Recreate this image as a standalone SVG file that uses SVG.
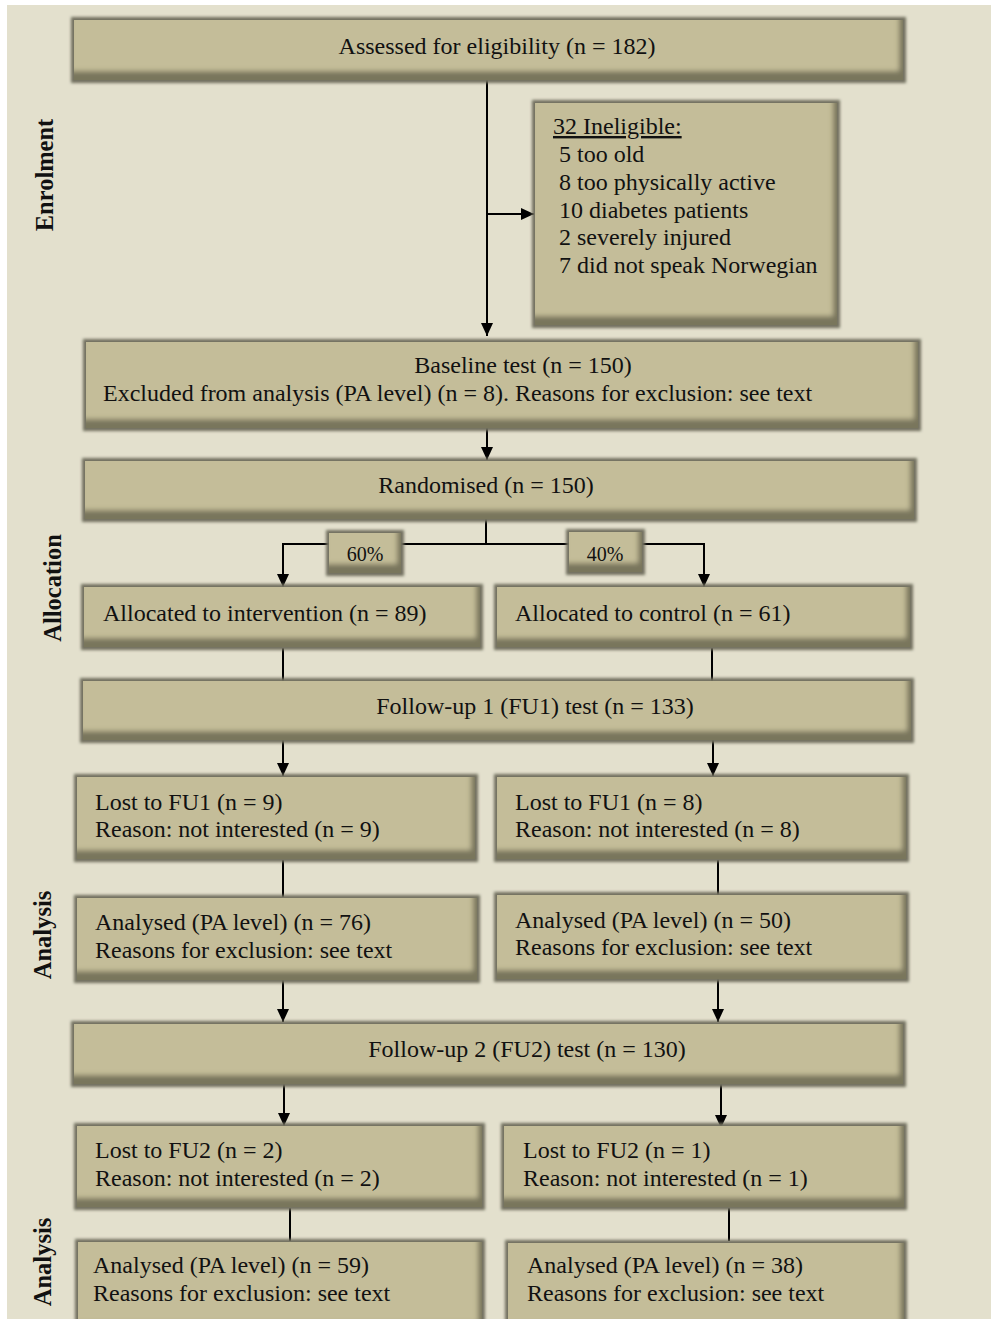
<svg xmlns="http://www.w3.org/2000/svg" width="991" height="1319" viewBox="0 0 991 1319">
  <defs>
    <style>
      .box { fill: #c4bd99; filter: url(#bevel); }
      .t { font-family: "Liberation Serif", "Times New Roman", serif; font-size: 24px; fill: #111; }
      .c { text-anchor: middle; }
      .pct { font-family: "Liberation Serif", "Times New Roman", serif; font-size: 20px; fill: #111; text-anchor: middle; }
      .side { font-family: "Liberation Serif", "Times New Roman", serif; font-size: 24.5px; font-weight: bold; fill: #111; text-anchor: middle; }
      .ln { stroke: #000; stroke-width: 2; fill: none; }
      .arr { marker-end: url(#head); }
    </style>
    <!-- soft dark rim plus darker bottom/right bevel on every box -->
    <filter id="bevel" x="-10%" y="-25%" width="120%" height="150%">
      <feMorphology in="SourceAlpha" operator="dilate" radius="2.5" result="grow"/>
      <feGaussianBlur in="grow" stdDeviation="1.6" result="growBlur"/>
      <feFlood flood-color="#72705f" result="rimColor"/>
      <feComposite in="rimColor" in2="growBlur" operator="in" result="rim"/>
      <feOffset in="SourceAlpha" dx="-4" dy="-9" result="shift"/>
      <feGaussianBlur in="shift" stdDeviation="2.5" result="shiftBlur"/>
      <feComposite in="SourceAlpha" in2="shiftBlur" operator="out" result="edge"/>
      <feFlood flood-color="#5a5843" flood-opacity="0.8" result="edgeColor"/>
      <feComposite in="edgeColor" in2="edge" operator="in" result="shade"/>
      <feMerge>
        <feMergeNode in="rim"/>
        <feMergeNode in="SourceGraphic"/>
        <feMergeNode in="shade"/>
      </feMerge>
    </filter>
    <marker id="head" markerUnits="userSpaceOnUse" markerWidth="14" markerHeight="14" viewBox="0 0 14 14" refX="13" refY="7" orient="auto">
      <path d="M0,1 L13,7 L0,13 Z" fill="#000"/>
    </marker>
  </defs>

  <!-- page background -->
  <rect x="0" y="0" width="991" height="1319" fill="#ffffff"/>
  <rect x="7" y="5" width="984" height="1314" fill="#e3e0cd"/>

  <!-- phase labels -->
  <g id="phase-labels">
    <text class="side" transform="translate(53,175) rotate(-90)">Enrolment</text>
    <text class="side" transform="translate(61,588) rotate(-90)">Allocation</text>
    <text class="side" transform="translate(51,935) rotate(-90)">Analysis</text>
    <text class="side" transform="translate(51,1262) rotate(-90)">Analysis</text>
  </g>

  <!-- connectors -->
  <g id="connectors">
    <path class="ln arr" d="M487,80 V336"/>
    <path class="ln arr" d="M487,214 H534"/>
    <path class="ln arr" d="M487,427 V460"/>
    <path class="ln" d="M486,519 V544"/>
    <path class="ln" d="M283,544 H704"/>
    <path class="ln arr" d="M283,543 V587"/>
    <path class="ln arr" d="M704,543 V587"/>
    <path class="ln" d="M283,648 V681"/>
    <path class="ln" d="M712,648 V681"/>
    <path class="ln arr" d="M283,734 V776"/>
    <path class="ln arr" d="M713,734 V776"/>
    <path class="ln" d="M283,860 V897"/>
    <path class="ln" d="M718,860 V895"/>
    <path class="ln arr" d="M283,978 V1022"/>
    <path class="ln arr" d="M718,978 V1022"/>
    <path class="ln arr" d="M284,1083 V1126"/>
    <path class="ln arr" d="M721,1083 V1128"/>
    <path class="ln" d="M290,1208 V1241"/>
    <path class="ln" d="M729,1208 V1241"/>
  </g>

  <g id="assessed">
    <rect class="box" x="74" y="20" width="829" height="60"/>
    <text class="t c" x="497" y="54">Assessed for eligibility (n = 182)</text>
  </g>

  <g id="ineligible">
    <rect class="box" x="535" y="103" width="302" height="222"/>
    <text class="t" x="553" y="134" text-decoration="underline">32 Ineligible:</text>
    <text class="t" x="559" y="162">5 too old</text>
    <text class="t" x="559" y="190">8 too physically active</text>
    <text class="t" x="559" y="218">10 diabetes patients</text>
    <text class="t" x="559" y="245">2 severely injured</text>
    <text class="t" x="559" y="273">7 did not speak Norwegian</text>
  </g>

  <g id="baseline">
    <rect class="box" x="86" y="342" width="832" height="86"/>
    <text class="t c" x="523" y="373">Baseline test (n = 150)</text>
    <text class="t" x="103" y="401">Excluded from analysis (PA level) (n = 8). Reasons for exclusion: see text</text>
  </g>

  <g id="randomised">
    <rect class="box" x="85" y="461" width="829" height="58"/>
    <text class="t c" x="486" y="493">Randomised (n = 150)</text>
  </g>

  <g id="split-60">
    <rect class="box" x="329" y="533" width="72" height="40"/>
    <text class="pct" x="365" y="561">60%</text>
  </g>

  <g id="split-40">
    <rect class="box" x="569" y="532" width="73" height="40"/>
    <text class="pct" x="605" y="561">40%</text>
  </g>

  <g id="alloc-intervention">
    <rect class="box" x="84" y="587" width="396" height="60"/>
    <text class="t" x="103" y="621">Allocated to intervention (n = 89)</text>
  </g>

  <g id="alloc-control">
    <rect class="box" x="497" y="587" width="413" height="60"/>
    <text class="t" x="515" y="621">Allocated to control (n = 61)</text>
  </g>

  <g id="fu1">
    <rect class="box" x="83" y="681" width="828" height="59"/>
    <text class="t c" x="535" y="714">Follow-up 1 (FU1) test (n = 133)</text>
  </g>

  <g id="lost-fu1-intervention">
    <rect class="box" x="77" y="777" width="398" height="82"/>
    <text class="t" x="95" y="810">Lost to FU1 (n = 9)</text>
    <text class="t" x="95" y="837">Reason: not interested (n = 9)</text>
  </g>

  <g id="lost-fu1-control">
    <rect class="box" x="497" y="777" width="409" height="82"/>
    <text class="t" x="515" y="810">Lost to FU1 (n = 8)</text>
    <text class="t" x="515" y="837">Reason: not interested (n = 8)</text>
  </g>

  <g id="analysed-fu1-intervention">
    <rect class="box" x="77" y="898" width="400" height="82"/>
    <text class="t" x="95" y="930">Analysed (PA level) (n = 76)</text>
    <text class="t" x="95" y="958">Reasons for exclusion: see text</text>
  </g>

  <g id="analysed-fu1-control">
    <rect class="box" x="497" y="895" width="409" height="84"/>
    <text class="t" x="515" y="928">Analysed (PA level) (n = 50)</text>
    <text class="t" x="515" y="955">Reasons for exclusion: see text</text>
  </g>

  <g id="fu2">
    <rect class="box" x="74" y="1024" width="829" height="60"/>
    <text class="t c" x="527" y="1057">Follow-up 2 (FU2) test (n = 130)</text>
  </g>

  <g id="lost-fu2-intervention">
    <rect class="box" x="77" y="1126" width="405" height="81"/>
    <text class="t" x="95" y="1158">Lost to FU2 (n = 2)</text>
    <text class="t" x="95" y="1186">Reason: not interested (n = 2)</text>
  </g>

  <g id="lost-fu2-control">
    <rect class="box" x="504" y="1126" width="400" height="81"/>
    <text class="t" x="523" y="1158">Lost to FU2 (n = 1)</text>
    <text class="t" x="523" y="1186">Reason: not interested (n = 1)</text>
  </g>

  <g id="analysed-fu2-intervention">
    <rect class="box" x="78" y="1242" width="404" height="90"/>
    <text class="t" x="93" y="1273">Analysed (PA level) (n = 59)</text>
    <text class="t" x="93" y="1301">Reasons for exclusion: see text</text>
  </g>

  <g id="analysed-fu2-control">
    <rect class="box" x="508" y="1243" width="396" height="90"/>
    <text class="t" x="527" y="1273">Analysed (PA level) (n = 38)</text>
    <text class="t" x="527" y="1301">Reasons for exclusion: see text</text>
  </g>
</svg>
